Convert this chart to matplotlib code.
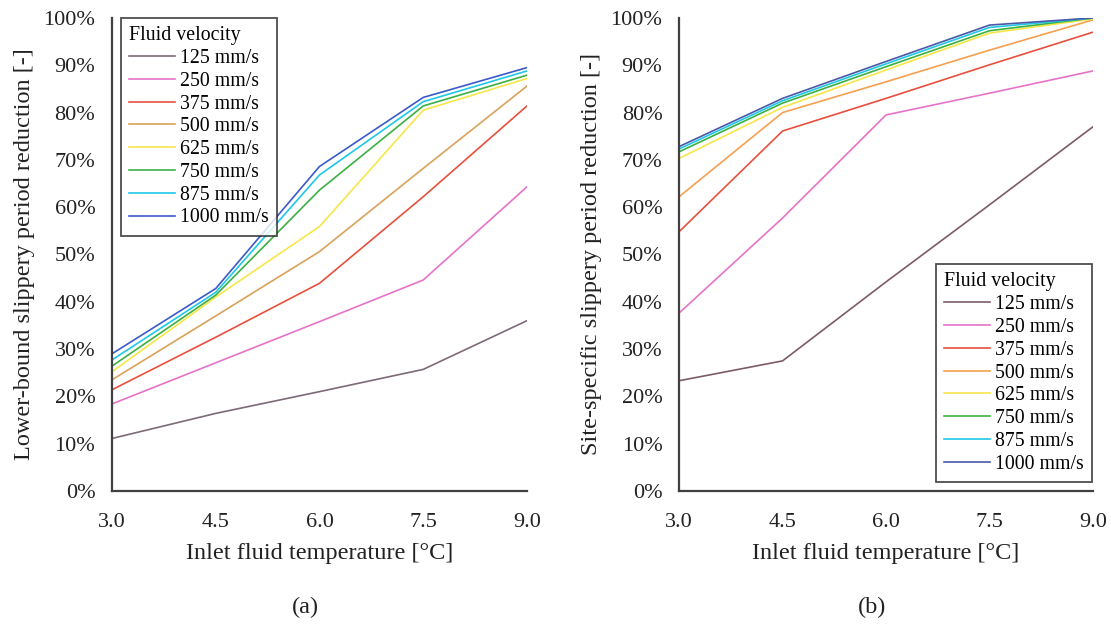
import matplotlib
matplotlib.use("Agg")
import matplotlib.pyplot as plt
from matplotlib.ticker import PercentFormatter

plt.rcParams['font.family'] = ['Liberation Serif', 'DejaVu Serif']

temps = [3.0, 4.5, 6.0, 7.5, 9.0]
velocities = ["125 mm/s", "250 mm/s", "375 mm/s", "500 mm/s",
              "625 mm/s", "750 mm/s", "875 mm/s", "1000 mm/s"]

# Panel (a): lower-bound slippery period reduction [%]
lower_bound = [
    [11.1, 16.4, 21.0, 25.7, 36.0],
    [18.4, 27.1, 35.8, 44.6, 64.3],
    [21.4, 32.5, 43.9, 62.2, 81.4],
    [23.5, 37.0, 50.6, 68.2, 85.6],
    [25.2, 41.0, 55.9, 80.5, 87.2],
    [26.4, 41.4, 63.6, 81.4, 87.9],
    [27.7, 42.0, 66.8, 82.3, 88.8],
    [29.0, 42.8, 68.6, 83.2, 89.5],
]

# Panel (b): site-specific slippery period reduction [%]
site_specific = [
    [23.3, 27.5, 44.2, 60.5, 77.0],
    [37.6, 57.7, 79.5, 84.1, 88.8],
    [54.8, 76.1, 83.0, 90.1, 97.0],
    [62.2, 80.0, 86.5, 93.2, 99.6],
    [70.3, 81.1, 89.0, 96.8, 99.8],
    [71.7, 82.0, 89.7, 97.3, 100.0],
    [72.3, 82.5, 90.3, 98.0, 100.0],
    [72.8, 83.0, 90.8, 98.5, 100.0],
]

colors_a = ["#7d6a78", "#e673c8", "#e8503c", "#d9a25a",
            "#f7e64a", "#3cb043", "#1ec8e6", "#3c5ac8"]
colors_b = ["#7d5a6a", "#e673c8", "#e8503c", "#f5a050",
            "#f7e64a", "#3cb043", "#1ec8e6", "#4a5aa8"]

fig = plt.figure(figsize=(11.11, 6.26), dpi=100)
ax_a = fig.add_axes([0.1008, 0.2157, 0.3735, 0.7556])
ax_b = fig.add_axes([0.6112, 0.2157, 0.3726, 0.7556])

panels = [
    (ax_a, lower_bound, colors_a, "Lower-bound slippery period reduction [-]",
     "upper left", (0.022, 1.0), "(a)", 0.2745),
    (ax_b, site_specific, colors_b, "Site-specific slippery period reduction [-]",
     "lower right", (0.998, 0.019), "(b)", 0.785),
]

for ax, data, cols, ylabel, loc, anchor, tag, tx in panels:
    for vals, c, lab in zip(data, cols, velocities):
        ax.plot(temps, vals, color=c, lw=1.2, label=lab)
    ax.set_xlim(3.0, 9.0)
    ax.set_ylim(0, 100)
    ax.set_xticks(temps)
    ax.set_xticklabels([f"{t:.1f}" for t in temps])
    ax.set_yticks(range(0, 101, 10))
    ax.yaxis.set_major_formatter(PercentFormatter(decimals=0))
    ax.tick_params(length=0, labelsize=16, colors="#222222")
    ax.tick_params(axis='x', pad=16)
    ax.tick_params(axis='y', pad=12)
    for s in ["top", "right"]:
        ax.spines[s].set_visible(False)
    for s in ["left", "bottom"]:
        ax.spines[s].set_color("#404040")
        ax.spines[s].set_linewidth(1.6)
    ax.set_xlabel("Inlet fluid temperature [°C]", fontsize=17.5, color="#222222", labelpad=8)
    ax.set_ylabel(ylabel, fontsize=17.5, color="#222222", labelpad=6)
    leg = ax.legend(title="Fluid velocity", loc=loc, bbox_to_anchor=anchor,
                    fontsize=14.3, title_fontsize=14.3,
                    frameon=True, fancybox=False, edgecolor="#222222",
                    handlelength=2.3, handletextpad=0.25, labelspacing=0.19,
                    borderpad=0.42, borderaxespad=0.0)
    leg.get_frame().set_linewidth(1.3)
    leg._legend_box.align = "left"
    fig.text(tx, 1 - 607 / 626, tag, fontsize=17.5, ha="center", va="center", color="#222222")

fig.savefig("out.png", dpi=100, facecolor="white")
